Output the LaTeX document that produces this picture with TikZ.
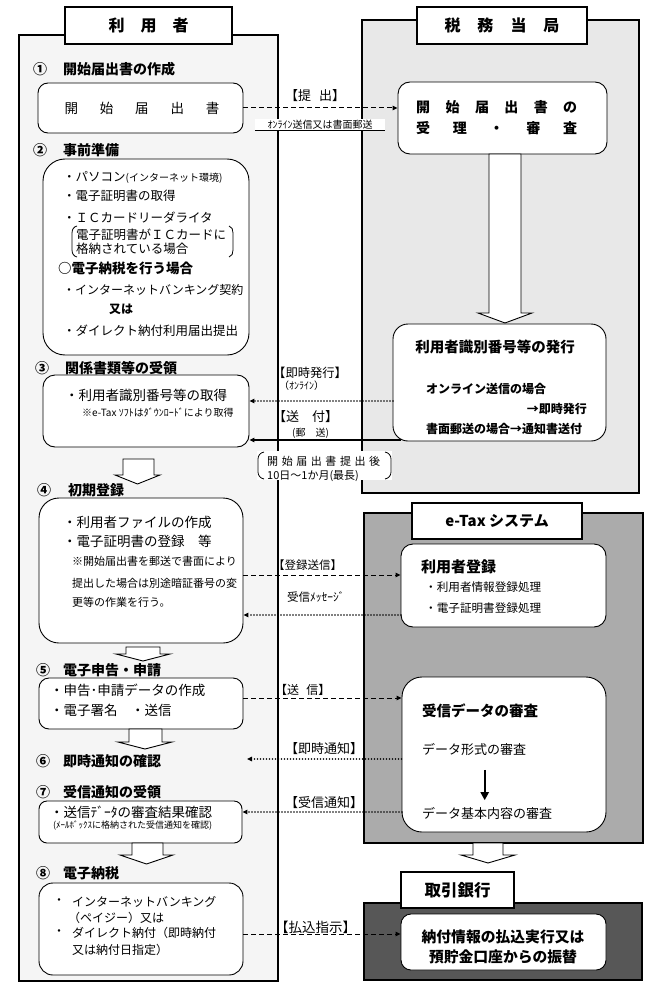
\documentclass[tikz,border=0pt]{standalone}
\usepackage{fontspec}
\setmainfont{Noto Sans CJK JP}
\usetikzlibrary{arrows.meta,calc}
\newcommand\myfs[1]{\fontsize{#1}{#1}\selectfont}
\newcommand\blkarrow[7]{\draw[blk] (#1,#5) -- (#2,#5) -- (#2,#6) -- (#4,#6) -- ({(#3+#4)/2},#7) -- (#3,#6) -- (#1,#6) -- cycle;}
\begin{document}
\begin{tikzpicture}[x=1pt,y=-1pt,
 panel/.style={draw,line width=2pt,inner sep=0pt,outer sep=0pt},
 ttl/.style={draw,line width=2pt,fill=white,inner sep=0pt,font=\bfseries\myfs{16}},
 rbox/.style={draw,line width=0.9pt,fill=white,inner sep=0pt,rounded corners=#1},
 tx/.style={anchor=west,inner sep=0pt,font=\myfs{#1}},
 bt/.style={anchor=west,inner sep=0pt,font=\bfseries\myfs{#1}},
 ct/.style={inner sep=0pt,font=\bfseries\myfs{#1}},
 hd/.style={anchor=west,inner sep=0pt,font=\bfseries\myfs{14}},
 blk/.style={draw,fill=white,line width=0.9pt},
 dsh/.style={line width=1pt,dash pattern=on 5pt off 3pt,-{Triangle[length=5pt,width=4.5pt]}},
 dot/.style={line width=1.7pt,line cap=round,dash pattern=on 0pt off 3pt,-{Triangle[length=5pt,width=4.5pt]}},
 sol/.style={line width=1.8pt,-{Triangle[length=5pt,width=4.5pt]}},
]
\useasboundingbox (0,0) rectangle (659,995);
\fill[white] (0,0) rectangle (659,995);
% panels
\node[panel,fill=black!4,minimum width=259pt,minimum height=946pt] (lp) at (148.5,508) {};
\node[panel,fill=black!9,minimum width=277pt,minimum height=473pt] (rp) at (500.5,256.5) {};
\node[panel,fill=black!33,minimum width=279pt,minimum height=330pt] (ep) at (503.5,678) {};
\node[panel,fill=black!66,minimum width=278pt,minimum height=77pt] (bp) at (503,941.5) {};
\node[ttl,minimum width=167pt,minimum height=37pt] (lt) at (148.5,25.5) {\makebox[80pt][s]{利\hfill 用\hfill 者}};
\node[ttl,minimum width=170pt,minimum height=37pt] (rt) at (502,25.5) {\makebox[115pt][s]{税\hfill 務\hfill 当\hfill 局}};
\node[ttl,minimum width=170pt,minimum height=36pt,font=\bfseries\myfs{15}] (et) at (497,521) {e-Tax システム};
\node[ttl,minimum width=113pt,minimum height=36pt,font=\bfseries\myfs{16.5}] (bt) at (457.5,890) {取引銀行};
% headers
\node[hd] (n1) at (33,69) {①}; \node[hd] (h1) at (63,69) {開始届出書の作成};
\node[hd] (n2) at (33,150) {②}; \node[hd] (h2) at (63,150) {事前準備};
\node[hd] (n3) at (35,368) {③}; \node[hd] (h3) at (65,368) {関係書類等の受領};
\node[hd] (n4) at (37,490) {④}; \node[hd] (h4) at (68,490) {初期登録};
\node[hd] (n5) at (36,670) {⑤}; \node[hd] (h5) at (63,670) {電子申告・申請};
\node[hd] (n6) at (36,761) {⑥}; \node[hd] (h6) at (63,761) {即時通知の確認};
\node[hd] (n7) at (36,792) {⑦}; \node[hd] (h7) at (63,792) {受信通知の受領};
\node[hd] (n8) at (36,873) {⑧}; \node[hd] (h8) at (63,873) {電子納税};
% left boxes
\node[rbox=10pt,minimum width=205pt,minimum height=50pt] (b1) at (140.5,108) {};
\node[inner sep=0pt,font=\myfs{13.5}] (b1t) at (142,108) {\makebox[155pt][s]{開\hfill 始\hfill 届\hfill 出\hfill 書}};
\node[rbox=22pt,minimum width=206pt,minimum height=196pt] (b2) at (146,257) {};
\node[tx=12.5] (b2a) at (63,177) {・パソコン{\myfs{10}(インターネット環境)}};
\node[tx=12.5] (b2b) at (63,196) {・電子証明書の取得};
\node[tx=12.5] (b2c) at (63,218) {・ＩＣカードリーダライタ};
\node[tx=12.5] (b2d) at (76,235) {電子証明書がＩＣカードに};
\node[tx=12.5] (b2e) at (76,249) {格納されている場合};
\draw[line width=0.8pt] (77,226) to[out=190,in=90] (72,233) -- (72,250) to[out=-90,in=170] (77,257);
\draw[line width=0.8pt] (229,226) to[out=-10,in=90] (233,233) -- (233,250) to[out=-90,in=10] (229,257);
\node[bt=13.5] (b2f) at (58,268) {○電子納税を行う場合};
\node[tx=12] (b2g) at (63,290) {・インターネットバンキング契約};
\node[ct=12] (b2h) at (121,309) {又は};
\node[tx=12.5] (b2i) at (63,331) {・ダイレクト納付利用届出提出};
\node[rbox=12pt,minimum width=206pt,minimum height=72pt] (b3) at (146,411) {};
\node[tx=13.5] (b3a) at (65,395) {・利用者識別番号等の取得};
\node[tx=10] (b3b) at (82,413) {※e-Tax ｿﾌﾄはﾀﾞｳﾝﾛｰﾄﾞにより取得};
\node[rbox=20pt,minimum width=204pt,minimum height=145pt] (b4) at (141,570.5) {};
\node[tx=13.5] (b4a) at (63,522) {・利用者ファイルの作成};
\node[tx=13.5] (b4b) at (63,541) {・電子証明書の登録　等};
\node[tx=11] (b4c) at (72,561) {※開始届出書を郵送で書面により};
\node[tx=11] (b4d) at (72,583) {提出した場合は別途暗証番号の変};
\node[tx=11] (b4e) at (72,602) {更等の作業を行う。};
\node[rbox=10pt,minimum width=204pt,minimum height=51pt] (b5) at (141,703.5) {};
\node[tx=13.5] (b5a) at (50,690) {・申告･申請データの作成};
\node[tx=13.5] (b5b) at (50,710) {・電子署名　・送信};
\node[rbox=8pt,minimum width=203pt,minimum height=42pt] (b7) at (140.5,822) {};
\node[tx=13.5] (b7a) at (50,812) {・送信ﾃﾞｰﾀの審査結果確認};
\node[tx=9] (b7b) at (53,826) {(ﾒｰﾙﾎﾞｯｸｽに格納された受信通知を確認)};
\node[rbox=14pt,minimum width=204pt,minimum height=92pt] (b8) at (141,929) {};
\node[tx=12] (b8a) at (53,902) {・};
\node[tx=12] (b8b) at (72,902) {インターネットバンキング};
\node[tx=12] (b8c) at (68,918) {（ペイジー）又は};
\node[tx=12] (b8d) at (53,933) {・};
\node[tx=12] (b8e) at (72,933) {ダイレクト納付（即時納付};
\node[tx=12] (b8f) at (72,950) {又は納付日指定）};
% right boxes
\node[rbox=12pt,minimum width=209pt,minimum height=72pt] (r1) at (502.5,118) {};
\node[bt=14] (r1a) at (416,107) {\makebox[161pt][s]{開\hfill 始\hfill 届\hfill 出\hfill 書\hfill の}};
\node[bt=14] (r1b) at (416,128) {\makebox[161pt][s]{受\hfill 理\hfill ・\hfill 審\hfill 査}};
\node[rbox=15pt,minimum width=213pt,minimum height=117pt] (r2) at (499.5,382.5) {};
\node[ct=14.5] (r2a) at (495,347) {利用者識別番号等の発行};
\node[bt=12] (r2b) at (426,389) {オンライン送信の場合};
\node[bt=12,anchor=east] (r2c) at (587,409) {→即時発行};
\node[bt=12] (r2d) at (426,429) {書面郵送の場合→通知書送付};
\node[rbox=12pt,minimum width=205pt,minimum height=83pt] (r3) at (503.5,585.5) {};
\node[bt=15] (r3a) at (421,567) {利用者登録};
\node[tx=11.6] (r3b) at (425,587) {・利用者情報登録処理};
\node[tx=11.6] (r3c) at (425,608) {・電子証明書登録処理};
\node[rbox=20pt,minimum width=204pt,minimum height=155pt] (r4) at (504,754.5) {};
\node[bt=14.5] (r4a) at (422,711) {受信データの審査};
\node[tx=13] (r4b) at (422,750) {データ形式の審査};
\node[tx=13] (r4c) at (422,813) {データ基本内容の審査};
\draw[line width=2pt,-{Triangle[length=8pt,width=8pt]}] ($(r4b.south)+(10.5,13.5)$) -- ($(r4b.south |- r4c.north)+(10.5,-6.5)$);
\node[rbox=10pt,minimum width=205pt,minimum height=56pt] (r5) at (503.5,942) {};
\node[ct=14.8] (r5a) at (503,937) {納付情報の払込実行又は};
\node[ct=14.8] (r5b) at (503,957) {預貯金口座からの振替};
% block arrows
\blkarrow{489}{521}{478}{532}{154}{313}{323}
\blkarrow{123}{154}{115}{160}{459}{475}{484}
\blkarrow{126}{160}{116}{170}{647}{654}{661}
\blkarrow{129}{162}{118}{172}{729}{742}{749}
\blkarrow{132}{163}{120}{173}{843}{855}{864}
\blkarrow{473}{503}{461}{515}{843}{855}{863}
% connectors
\draw[dsh] (b1.east) -- (b1.east -| r1.west);
\coordinate (k1) at (393,401);
\draw[dot] (k1) -- (k1 -| b3.east);
\coordinate (k2) at (401,440);
\draw[sol] (k2) -- (k2 -| b3.east);
\coordinate (k3) at (243,575);
\draw[dsh] (k3) -- (k3 -| r3.west);
\coordinate (k4) at (401,615);
\draw[dot] (k4) -- (k4 -| b4.east);
\coordinate (k5) at (243,698);
\draw[dsh] (k5) -- (k5 -| r4.west);
\coordinate (k6) at (247,759);
\draw[dot] (k6 -| r4.west) -- (k6);
\coordinate (k7) at (402,812);
\draw[dot] (k7) -- (k7 -| b7.east);
\coordinate (k8) at (243,934);
\draw[dsh] (k8) -- (k8 -| r5.west);
% labels
\node[tx=13] (l1) at (285,96) {【提\hspace{0.6em}出】};
\node[fill=white,inner sep=1pt,minimum width=130pt,font=\myfs{10}] (l1b) at (320,125) {ｵﾝﾗｲﾝ送信又は書面郵送};
\draw[line width=0.8pt] (l1b.south west) -- (l1b.south east);
\node[tx=12.3] (l2) at (273,373) {【即時発行】};
\node[tx=10] (l2b) at (279,386) {（ｵﾝﾗｲﾝ）};
\node[tx=13] (l3) at (273,417) {【送\hspace{1em}付】};
\node[tx=10] (l3b) at (292,433) {(郵　送)};
\node[fill=white,inner sep=0pt,minimum width=135pt,minimum height=29pt] (l4) at (324.5,465.5) {};
\draw[line width=0.8pt] (264,452) to[out=190,in=90] (258,459) -- (258,472) to[out=-90,in=170] (264,479);
\draw[line width=0.8pt] (385,452) to[out=-10,in=90] (391,459) -- (391,472) to[out=-90,in=10] (385,479);
\node[tx=11] (l4a) at (267,461) {\makebox[113pt][s]{開\hfill 始\hfill 届\hfill 出\hfill 書\hfill 提\hfill 出\hfill 後}};
\node[tx=11] (l4b) at (267,476) {10日～1か月(最長)};
\node[tx=11.5] (l5) at (273,565) {【登録送信】};
\node[tx=11.5] (l6) at (287,597) {受信ﾒｯｾｰｼﾞ};
\node[tx=12] (l7) at (275,690) {【送\hspace{0.6em}信】};
\node[tx=13] (l8) at (285,749) {【即時通知】};
\node[tx=13] (l9) at (285,803) {【受信通知】};
\node[tx=13.5] (l10) at (275,927) {【払込指示】};
\end{tikzpicture}
\end{document}
